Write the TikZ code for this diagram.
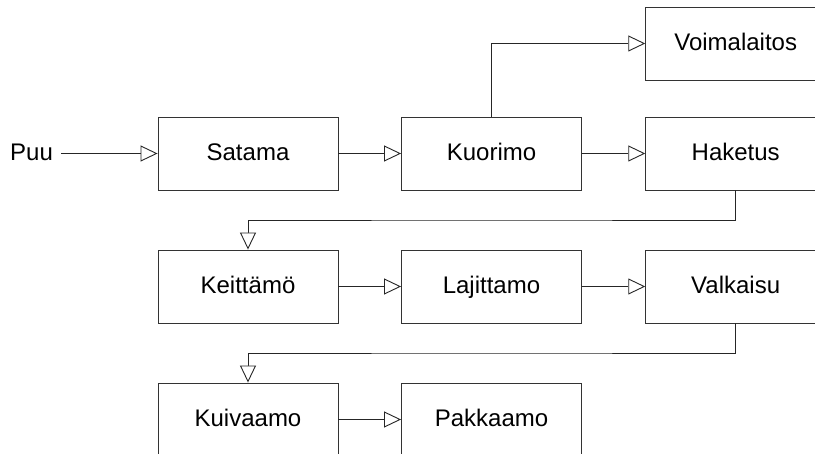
\documentclass[tikz,border=0pt]{standalone}
\usepackage{fontspec}
\setmainfont{Liberation Sans}
\usetikzlibrary{arrows.meta,calc}
\begin{document}
\begin{tikzpicture}[x=1pt,y=-1pt,
  box/.style={draw=black!80,line width=0.9pt,minimum width=180pt,minimum height=73pt,inner sep=0pt,
    text height=17.2pt,text depth=4pt,font=\fontsize{24}{28}\selectfont},
  arr/.style={draw=black!85,line width=0.9pt,-{Triangle[open,length=17pt,width=16pt,fill=white]}},
  lbl/.style={font=\fontsize{24}{28}\selectfont,inner xsep=8pt,inner ysep=0pt,text height=17.2pt,text depth=4pt}]
\useasboundingbox (0,0) rectangle (815,454);
\clip (0,0) rectangle (815,454);
\node[box] (satama) at (248,153.5) {Satama};
\node[box] (kuorimo) at (491.5,153.5) {Kuorimo};
\node[box] (haketus) at (735.7,153.5) {Haketus};
\node[box] (voima) at (735.7,43.5) {Voimalaitos};
\node[box] (keitto) at (248,286.5) {Keittämö};
\node[box] (lajit) at (491.5,286.5) {Lajittamo};
\node[box] (valk) at (735.7,286.5) {Valkaisu};
\node[box] (kuiva) at (248,419.5) {Kuivaamo};
\node[box] (pakka) at (491.5,419.5) {Pakkaamo};
\node[lbl] (puu) at (31.5,153.5) {Puu};
\draw[arr] (puu.east) -- (satama.west);
\draw[arr] (satama.east) -- (kuorimo.west);
\draw[arr] (kuorimo.east) -- (haketus.west);
\draw[arr] (kuorimo.north) |- (voima.west);
\coordinate (m1) at ($(haketus.south)!0.5!(keitto.north)$);
\draw[arr] (haketus.south) |- (m1) -| (keitto.north);
\draw[arr] (keitto.east) -- (lajit.west);
\draw[arr] (lajit.east) -- (valk.west);
\coordinate (m2) at ($(valk.south)!0.5!(kuiva.north)$);
\draw[arr] (valk.south) |- (m2) -| (kuiva.north);
\draw[arr] (kuiva.east) -- (pakka.west);
\end{tikzpicture}
\end{document}
